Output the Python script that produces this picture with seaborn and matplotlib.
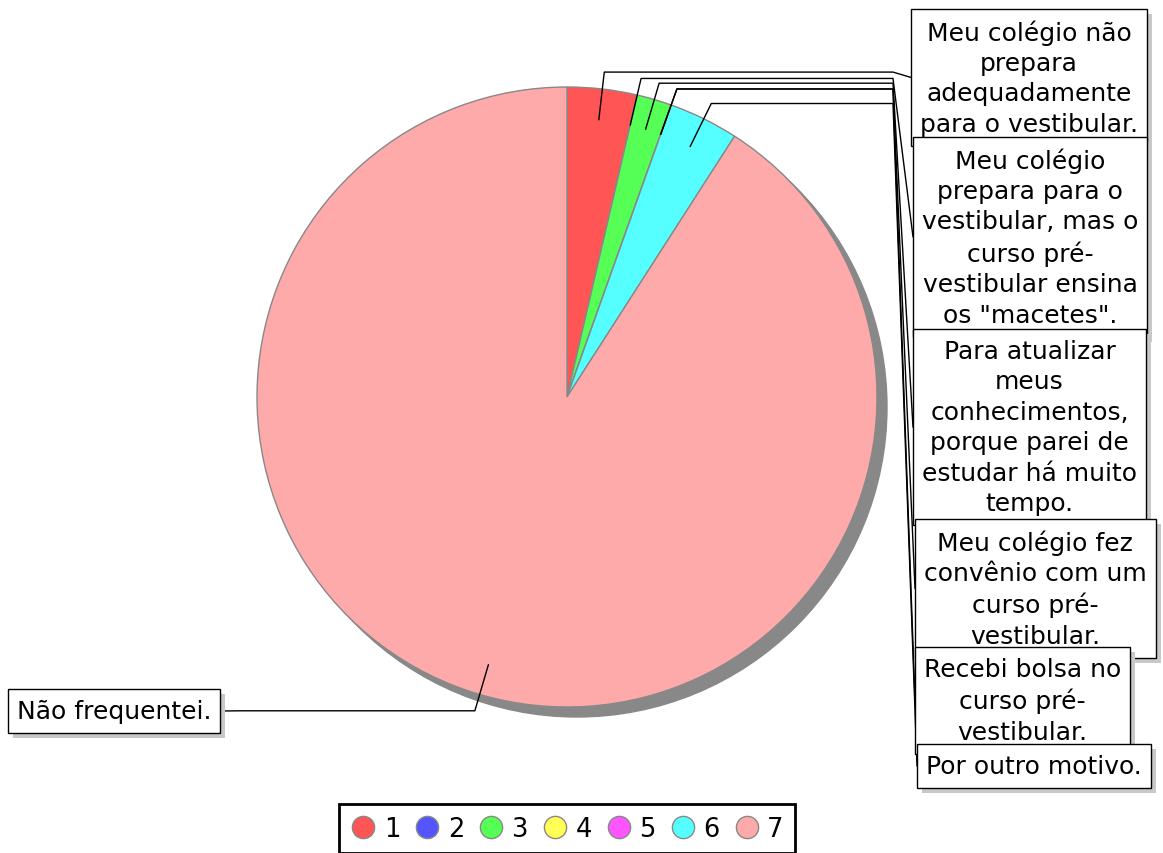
import numpy as np
import matplotlib
matplotlib.use('Agg')
import matplotlib.pyplot as plt
from matplotlib.patches import Circle, Rectangle
from matplotlib.lines import Line2D
import seaborn as sns

# data
categories = ['1', '2', '3', '4', '5', '6', '7']
labels = [
    'Meu colégio não\nprepara\nadequadamente\npara o vestibular.',
    'Meu colégio\nprepara para o\nvestibular, mas o\ncurso pré-\nvestibular ensina\nos "macetes".',
    'Para atualizar\nmeus\nconhecimentos,\nporque parei de\nestudar há muito\ntempo.',
    'Meu colégio fez\nconvênio com um\ncurso pré-\nvestibular.',
    'Recebi bolsa no\ncurso pré-\nvestibular.',
    'Por outro motivo.',
    'Não frequentei.',
]
counts = [2, 0, 1, 0, 0, 2, 50]
colors = ['#FF5555', '#5555FF', '#55FF55', '#FFFF55', '#FF55FF', '#55FFFF', '#FFAAAA']

sns.set_theme(style='white')
plt.rcParams['font.family'] = ['DejaVu Sans']
plt.rcParams['text.color'] = 'black'

W, H = 1163, 854
fig = plt.figure(figsize=(W / 100, H / 100), dpi=100)
ax = fig.add_axes([0, 0, 1, 1])

cx, cy, r = 567, H - 398, 310

# shadow under the pie
ax.add_patch(Circle((cx + 10, cy - 10), r, color='#888888', zorder=0))

wedges, _ = ax.pie(counts, colors=colors, startangle=90, counterclock=False,
                   center=(cx, cy), radius=r,
                   wedgeprops=dict(edgecolor='#888888', linewidth=1))
ax.set_xlim(0, W)
ax.set_ylim(0, H)
ax.set_aspect('equal')
ax.set_axis_off()

# label boxes: left edge (right edge for the last), top edge, in pixels from top-left
box_x = [911, 913, 913, 915, 915, 917, 220]
box_top = [10, 138, 330, 520, 648, 745, 690]
fs = 18
hpad, vpad = 9, 10

texts = []
for i, lab in enumerate(labels):
    if i < 6:
        ha, tx = 'left', box_x[i] + hpad
    else:
        ha, tx = 'right', box_x[i] - hpad
    t = ax.text(tx, H - box_top[i] - vpad, lab, ha=ha, va='top',
                multialignment='center', fontsize=fs, linespacing=1.34,
                zorder=10 + 3 * i + 2, color='black')
    texts.append(t)

fig.canvas.draw()
inv = ax.transData.inverted()

total = sum(counts)
start = 0.0
for i, (t, n) in enumerate(zip(texts, counts)):
    bb = t.get_window_extent().transformed(inv)
    x0, y1 = bb.x0 - hpad, H - box_top[i]
    w = bb.width + 2 * hpad
    h = bb.height + 2 * vpad
    y0 = y1 - h
    ax.add_patch(Rectangle((x0 + 5, y0 - 5), w, h, facecolor='#c8c8c8',
                           edgecolor='none', zorder=10 + 3 * i))
    ax.add_patch(Rectangle((x0, y0), w, h, facecolor='white',
                           edgecolor='black', lw=1, zorder=10 + 3 * i + 1))

    # leader line from the slice to the box
    mid = start + 360 * n / total / 2
    start += 360 * n / total
    a = np.radians(mid)
    p1 = (cx + 0.9 * r * np.sin(a), cy + 0.9 * r * np.cos(a))
    p2 = (cx + 1.055 * r * np.sin(a), cy + 1.055 * r * np.cos(a))
    ym = y0 + h / 2
    if i < 6:
        xs = [p1[0], p2[0], 893, x0]
    else:
        xs = [p1[0], p2[0], 240, x0 + w]
    ax.plot(xs, [p1[1], p2[1], p2[1], ym], color='black', lw=1, zorder=3)

handles = [Line2D([], [], marker='o', ls='', markersize=16,
                  markerfacecolor=c, markeredgecolor='#888888', markeredgewidth=1)
           for c in colors]
leg = fig.legend(handles, categories, loc='upper center', ncol=7,
                 bbox_to_anchor=(567 / W, 1 - 805 / H), fontsize=18.5,
                 frameon=True, fancybox=False, edgecolor='black', framealpha=1,
                 handletextpad=0.3, columnspacing=0.55, borderpad=0.45,
                 handlelength=1.0, borderaxespad=0)
leg.get_frame().set_linewidth(2)

fig.savefig('out.png', dpi=100)
